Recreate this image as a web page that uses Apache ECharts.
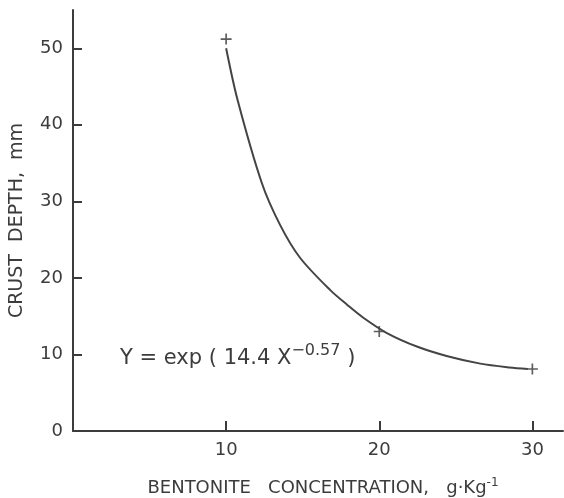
<!DOCTYPE html>
<html>
<head>
<meta charset="utf-8">
<script src="https://cdn.jsdelivr.net/npm/echarts@6/dist/echarts.min.js"></script>
<style>
html,body{margin:0;padding:0;background:#fff;}
#chart{width:564px;height:498px;}
</style>
</head>
<body>
<div id="chart"></div>
<script>
// Fitted curve
const curveX = [10, 10.74, 12.33, 13.53, 14.84, 16.8, 17.9, 18.96, 20.5, 22.5, 24.4, 26.6, 28.5, 29.7];
const curveY = [50.0, 43.3, 32.4, 26.9, 22.6, 18.4, 16.5, 14.8, 12.8, 11.0, 9.8, 8.8, 8.3, 8.1];
// Measured points (+ markers)
const pointX = [10, 20, 30];
const pointY = [51.2, 13.0, 8.1];
// Tick values
const xTicks = [10, 20, 30];
const yTicks = [0, 10, 20, 30, 40, 50];

const FONT = 'DejaVu Sans';
const INK = '#3c3c3c';

const chart = echarts.init(document.getElementById('chart'), null, {renderer: 'canvas'});
chart.setOption({
  backgroundColor: '#fff',
  animation: false,
  grid: {left: 73, right: 1, top: 10, bottom: 67, containLabel: false, outerBoundsMode: 'none'},
  xAxis: {
    type: 'value', min: 0, max: 32,
    axisLine: {lineStyle: {color: INK, width: 2}},
    axisTick: {inside: true, length: 10, lineStyle: {color: INK, width: 2}, customValues: xTicks},
    axisLabel: {customValues: xTicks, color: INK, fontFamily: FONT, fontSize: 18, margin: 10},
    splitLine: {show: false},
    name: 'BENTONITE   CONCENTRATION,   g·Kg{s|-1}',
    nameLocation: 'middle', nameGap: 46,
    nameTextStyle: {color: INK, fontFamily: FONT, fontSize: 18, padding: [0, 0, 0, 10],
      rich: {s: {fontSize: 12, verticalAlign: 'top', padding: [0, 0, 10, 0], color: INK, fontFamily: FONT}}}
  },
  yAxis: {
    type: 'value', min: 0, max: 55,
    axisLine: {show: true, lineStyle: {color: INK, width: 2}},
    axisTick: {show: true, inside: true, length: 9, lineStyle: {color: INK, width: 2}, customValues: yTicks},
    axisLabel: {customValues: yTicks, color: INK, fontFamily: FONT, fontSize: 18, margin: 10},
    splitLine: {show: false},
    name: 'CRUST  DEPTH,  mm',
    nameLocation: 'middle', nameGap: 46, nameRotate: 90,
    nameTextStyle: {color: INK, fontFamily: FONT, fontSize: 19}
  },
  graphic: [{
    type: 'text', left: 120, top: 343,
    style: {
      text: 'Y = exp ( 14.4 X{s|−0.57}{p| )}',
      font: '21px "DejaVu Sans"', fill: INK,
      rich: {
        s: {fontSize: 16, fontFamily: FONT, fill: INK, padding: [0, 0, 16, 0]},
        p: {fontSize: 21, fontFamily: FONT, fill: INK}
      }
    }
  }],
  series: [{
    type: 'line',
    data: curveX.map((x, i) => [x, curveY[i]]),
    smooth: 0.3, showSymbol: false,
    lineStyle: {color: '#444', width: 2}
  }, {
    type: 'scatter',
    data: pointX.map((x, i) => [x, pointY[i]]),
    symbol: 'path://M4.25,0h1.5v4.25h4.25v1.5h-4.25v4.25h-1.5v-4.25h-4.25v-1.5h4.25z',
    symbolSize: 11,
    itemStyle: {color: '#333'}
  }]
});
</script>
</body>
</html>
